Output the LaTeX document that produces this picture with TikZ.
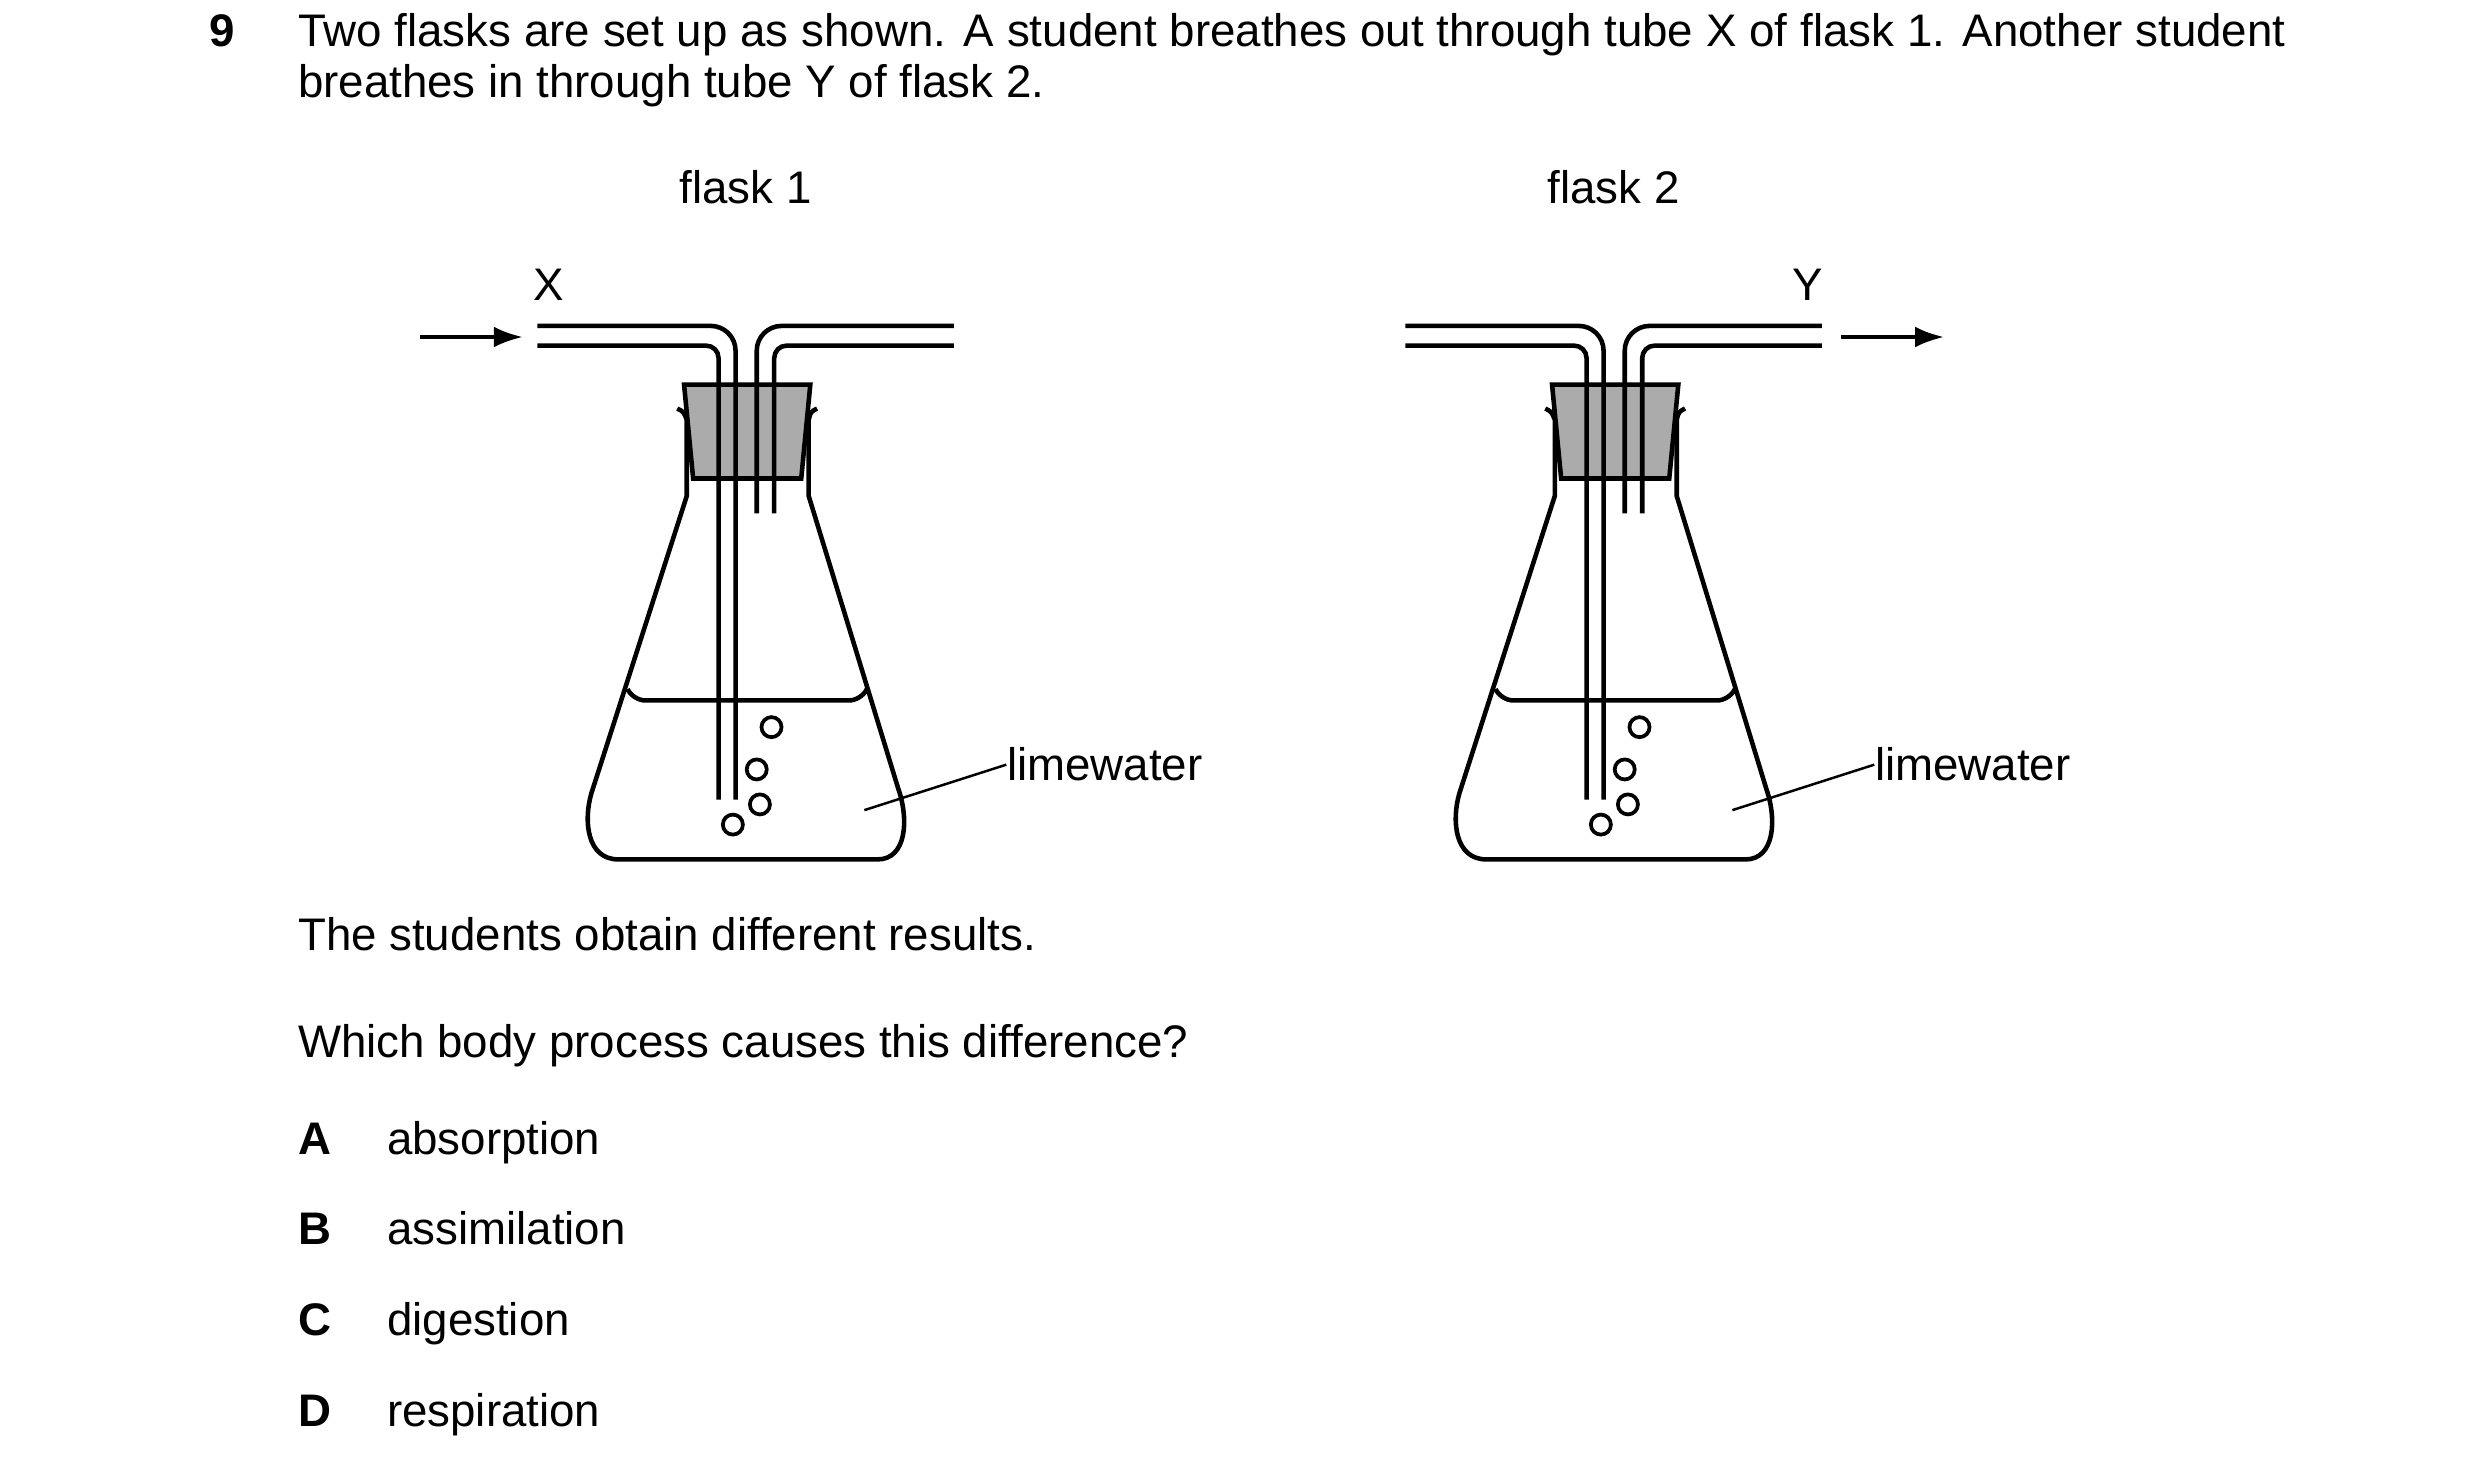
\documentclass[tikz,border=0pt]{standalone}
\usepackage{fontspec}
\setmainfont{Liberation Sans}
\usetikzlibrary{arrows.meta}

\tikzset{
  glass/.style={line width=1.1pt, black},
  bung/.style={line width=1.1pt, fill=gray!80!black!55},
  txt/.style={inner sep=0pt, font=\fontsize{11}{12.26}\selectfont},
  flow/.style={line width=1pt, -{Latex[length=7pt,width=5pt]}},
  leader/.style={line width=0.6pt}
}

\begin{document}
\begin{tikzpicture}[x=0.383pt, y=-0.383pt]
  \useasboundingbox (0,0) rectangle (1560,925.3);

  % question text
  \node[txt, anchor=base west, font=\fontsize{11}{12.26}\selectfont\bfseries] (num) at (131,29) {9};
  \node[txt, anchor=north west, text width=478.8pt, align=justify] (stem) at (187,8)
    {Two flasks are set up as shown. A student breathes out through tube X of flask 1. Another student breathes in through tube Y of flask 2.};

  % the two flasks
  \foreach \dx/\n in {0/1, 546/2}{
    \begin{scope}[xshift=\dx*0.383pt]
      \node[txt, anchor=base] (title\n) at (469,128) {flask \n};
      % flask body
      \draw[glass] (426,257) .. controls (430,259) .. (432,264) -- (432,312) -- (372,499)
        .. controls (367,516) and (369,540.6) .. (389,540.6) -- (552,540.6)
        .. controls (570,540.6) and (572,516) .. (565,496) -- (508.7,312) -- (508.7,264)
        .. controls (510,259) .. (514,257);
      % liquid level
      \draw[glass, rounded corners=3] (395,434) -- (398,440.6) -- (542,440.6) -- (545,434);
      % stopper
      \draw[bung] (430.3,242) -- (509.7,242) -- (504,301) -- (436,301) -- cycle;
      % long tube
      \draw[glass, rounded corners=6] (338,205) -- (462.7,205) -- (462.7,503);
      \draw[glass, rounded corners=3] (338,217.4) -- (452,217.4) -- (452,503);
      % short tube
      \draw[glass, rounded corners=6] (600,205) -- (476,205) -- (476,323);
      \draw[glass, rounded corners=3] (600,217.4) -- (487,217.4) -- (487,323);
      % bubbles
      \foreach \bx/\by in {485.3/457.4, 476/484, 478/506, 461/518.7}
        \draw[line width=0.9pt] (\bx,\by) circle[radius=6.3];
      % label
      \coordinate (tip\n) at (543.7,509.6);
      \node[txt, anchor=west] (lime\n) at (633,481) {limewater};
      \draw[leader] (tip\n) -- (lime\n.west);
    \end{scope}
  }

  % blowing in and sucking out
  \node[txt, anchor=base] (X) at (345,189) {X};
  \coordinate (inA) at (264,212);
  \coordinate (inB) at (329,212);
  \draw[flow] (inA) -- (inB);
  \node[txt, anchor=base] (Y) at (1137,189) {Y};
  \coordinate (outA) at (1158,212);
  \coordinate (outB) at (1223,212);
  \draw[flow] (outA) -- (outB);

  % rest of the question
  \node[txt, anchor=base west] (res) at (187,598) {The students obtain different results.};
  \node[txt, anchor=base west] (ask) at (187,665) {Which body process causes this difference?};
  \foreach \k/\w/\yy in {A/absorption/726, B/assimilation/783, C/digestion/840, D/respiration/897}{
    \node[txt, anchor=base west, font=\fontsize{11}{12.26}\selectfont\bfseries] (key\k) at (187,\yy) {\k};
    \node[txt, anchor=base west] (opt\k) at (243,\yy) {\w};
  }
\end{tikzpicture}
\end{document}
